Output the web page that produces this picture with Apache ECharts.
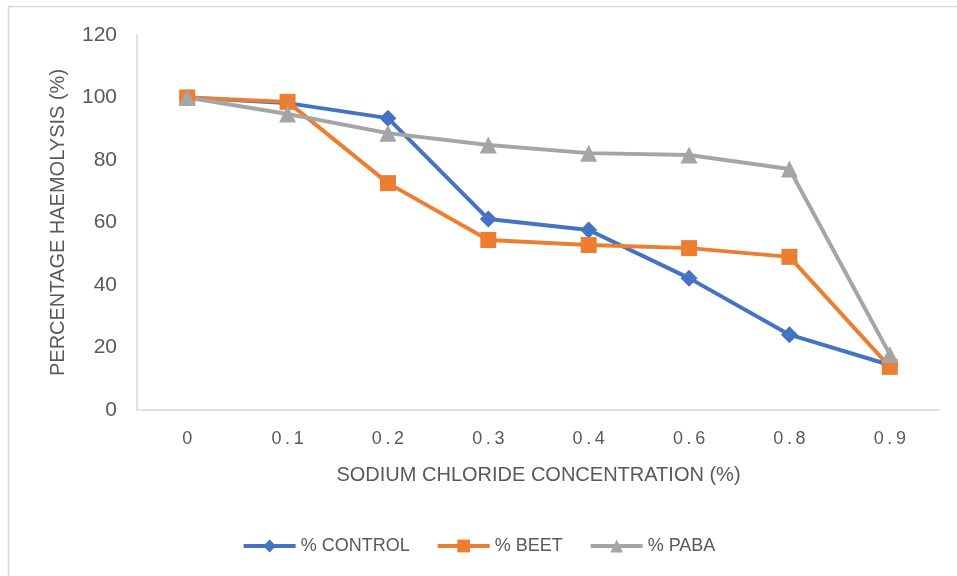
<!DOCTYPE html>
<html>
<head>
<meta charset="utf-8">
<script src="https://cdn.jsdelivr.net/npm/echarts@6/dist/echarts.min.js"></script>
<style>
  html, body { margin: 0; padding: 0; background: #fff; }
  #chart { width: 957px; height: 576px; }
</style>
</head>
<body>
<div id="chart"></div>
<script>
// Sodium chloride concentrations (%) on the category axis
const categories = ['0', '0.1', '0.2', '0.3', '0.4', '0.6', '0.8', '0.9'];

// Percentage haemolysis for each treatment
const controlValues = [100, 98.2, 93.4, 61.1, 57.6, 42.2, 24.1, 14.4];
const beetValues    = [100, 98.6, 72.6, 54.4, 52.8, 51.8, 49.0, 13.8];
const pabaValues    = [100, 94.7, 88.6, 84.8, 82.2, 81.6, 77.1, 17.8];

const seriesNames = ['% CONTROL', '% BEET', '% PABA'];
const yTicks = { min: 0, max: 120, interval: 20 };

const FONT = '"Liberation Sans", "DejaVu Sans", sans-serif';
const TEXT = '#595959';
const AXIS = '#d9d9d9';

const chart = echarts.init(document.getElementById('chart'), null, { renderer: 'canvas' });

function lineSeries(name, data, color, symbol, size) {
  return {
    name: name,
    type: 'line',
    data: data,
    symbol: symbol,
    symbolSize: size,
    showAllSymbol: true,
    lineStyle: { color: color, width: 4 },
    itemStyle: { color: color },
    emphasis: { disabled: true },
    animation: false
  };
}

chart.setOption({
  backgroundColor: '#ffffff',
  animation: false,
  graphic: [{
    type: 'rect',
    shape: { x: 8.5, y: 6.5, width: 960, height: 580 },
    style: { fill: 'none', stroke: AXIS, lineWidth: 1.5 },
    silent: true,
    z: -1
  }],
  grid: { left: 137, top: 35, right: 17, bottom: 166, containLabel: false },
  legend: {
    data: seriesNames,
    bottom: 16,
    left: 'center',
    itemWidth: 52,
    itemHeight: 16,
    itemGap: 26,
    lineStyle: { width: 4 },
    textStyle: { fontFamily: FONT, fontSize: 18, color: TEXT }
  },
  xAxis: {
    type: 'category',
    data: categories,
    boundaryGap: true,
    name: 'SODIUM CHLORIDE CONCENTRATION (%)',
    nameLocation: 'middle',
    nameGap: 55,
    nameTextStyle: { fontFamily: FONT, fontSize: 20, color: TEXT },
    axisLine: { show: true, lineStyle: { color: AXIS, width: 1.5 } },
    axisTick: { show: false },
    axisLabel: {
      fontFamily: FONT, fontSize: 18, color: TEXT, margin: 20,
      formatter: function (v) { return v.split('').join('\u2009'); }
    },
    splitLine: { show: false }
  },
  yAxis: {
    type: 'value',
    min: yTicks.min,
    max: yTicks.max,
    interval: yTicks.interval,
    name: 'PERCENTAGE HAEMOLYSIS (%)',
    nameLocation: 'middle',
    nameGap: 69,
    nameRotate: 90,
    nameTextStyle: { fontFamily: FONT, fontSize: 20, color: TEXT },
    axisLine: { show: true, lineStyle: { color: AXIS, width: 1.5 } },
    axisTick: { show: false },
    axisLabel: { fontFamily: FONT, fontSize: 21, color: TEXT, margin: 20 },
    splitLine: { show: false }
  },
  series: [
    lineSeries(seriesNames[0], controlValues, '#4472C4', 'diamond', 17),
    lineSeries(seriesNames[1], beetValues, '#ED7D31', 'rect', 16),
    lineSeries(seriesNames[2], pabaValues, '#A5A5A5', 'triangle', 17)
  ]
});
</script>
</body>
</html>
